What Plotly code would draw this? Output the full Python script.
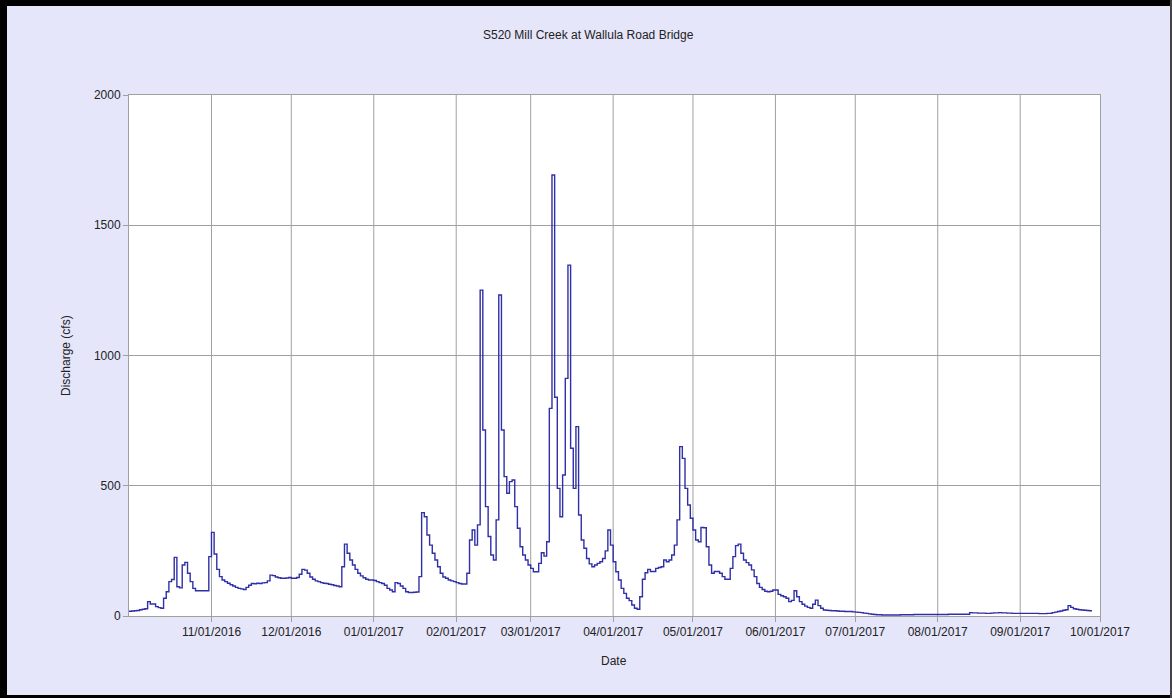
import pandas as pd
import plotly.graph_objects as go

# Daily mean discharge (cfs), water year 2017, one list per month
oct_2016 = [18, 19, 20, 21, 24, 26, 28, 55, 46, 46, 36, 32, 30, 68, 93, 132, 140, 225, 112, 108,
            196, 206, 164, 132, 106, 97, 97, 97, 97, 97, 228]
nov_2016 = [321, 238, 179, 151, 138, 132, 126, 120, 115, 110, 106, 104, 102, 110, 118, 125, 124, 126,
            125, 127, 128, 135, 157, 155, 150, 147, 145, 145, 146, 148]
dec_2016 = [145, 145, 148, 160, 179, 176, 164, 150, 141, 135, 132, 128, 126, 125, 122, 120, 117, 115,
            112, 189, 276, 241, 215, 196, 179, 164, 154, 147, 141, 138, 138]
jan_2017 = [136, 132, 128, 125, 118, 106, 100, 93, 128, 125, 115, 106, 93, 90, 90, 91, 92, 151, 397,
            381, 311, 272, 241, 215, 189, 164, 150, 145, 138, 135, 132]
feb_2017 = [128, 125, 123, 123, 164, 292, 330, 272, 350, 1251, 714, 420, 305, 234, 215, 369, 1232,
            714, 535, 471, 516, 522, 420, 337, 266, 234, 215, 196]
mar_2017 = [183, 170, 170, 202, 243, 230, 285, 797, 1693, 840, 490, 381, 541, 912, 1347, 644, 490,
            727, 388, 292, 260, 221, 200, 189, 196, 202, 208, 221, 250, 330, 272]
apr_2017 = [208, 170, 138, 106, 87, 68, 59, 42, 30, 26, 74, 141, 166, 179, 171, 171, 183, 186, 189,
            215, 208, 215, 234, 272, 369, 650, 605, 490, 426, 375]
may_2017 = [330, 292, 285, 340, 339, 266, 196, 164, 171, 171, 164, 151, 141, 141, 183, 228, 270, 276,
            241, 215, 205, 196, 177, 151, 125, 110, 102, 95, 93, 95, 100]
jun_2017 = [100, 83, 78, 74, 68, 55, 60, 97, 74, 55, 45, 38, 33, 30, 45, 61, 40, 30, 23, 22, 21, 20,
            20, 19, 18, 18, 17, 17, 17, 16]
jul_2017 = [15, 14, 13, 11, 10, 8, 7, 6, 5, 5, 4, 4, 4, 4, 4, 4, 4, 5, 5, 5, 5, 5, 6, 6, 6, 6, 6, 6,
            6, 6, 6]
aug_2017 = [6, 6, 6, 6, 7, 7, 7, 7, 7, 7, 7, 7, 13, 12, 12, 11, 11, 11, 10, 10, 11, 12, 12, 13, 12,
            12, 11, 11, 10, 10, 10]
sep_2017 = [10, 10, 10, 10, 10, 10, 10, 9, 9, 9, 10, 10, 13, 15, 17, 19, 22, 24, 40, 33, 28, 26, 24,
            23, 22, 21, 20, 20]

discharge = (oct_2016 + nov_2016 + dec_2016 + jan_2017 + feb_2017 + mar_2017 + apr_2017 + may_2017
             + jun_2017 + jul_2017 + aug_2017 + sep_2017)
dates = pd.date_range("2016-10-01", periods=len(discharge), freq="D")

month_ticks = pd.date_range("2016-11-01", "2017-10-01", freq="MS")
grid_months = pd.date_range("2016-10-01", "2017-10-01", freq="MS")
y_ticks = [0, 500, 1000, 1500, 2000]

title_text = "S520 Mill Creek at Wallula Road Bridge"
x_title = "Date"
y_title = "Discharge (cfs)"

W, H = 1172, 698
L, R, T, B = 129, 72, 95, 82
PW, PH = W - L - R, H - T - B


def px_x(px):
    return (px - L) / PW


def px_y(py):
    return (H - B - py) / PH


FONT = "Liberation Sans, Arial, sans-serif"
TXT = "#222222"
GRID = "#a0a0a0"

fig = go.Figure()
fig.add_trace(go.Scatter(
    x=dates, y=discharge, mode="lines", line=dict(shape="hv", color="#2f2fa8", width=1.4),
    hoverinfo="x+y", showlegend=False,
))

fig.update_layout(
    width=W, height=H,
    margin=dict(l=L, r=R, t=T, b=B, pad=0),
    paper_bgcolor="#E6E6FA",
    plot_bgcolor="#FFFFFF",
    font=dict(family=FONT, size=12, color=TXT),
    showlegend=False,
)

fig.update_xaxes(
    type="date",
    range=[grid_months[0], grid_months[-1]],
    tickvals=list(month_ticks),
    ticktext=[d.strftime("%m/%d/%Y") for d in month_ticks],
    ticks="outside", ticklen=5, tickcolor=GRID, tickwidth=1,
    showgrid=False, zeroline=False,
    showline=True, linecolor=GRID, linewidth=1, mirror=True,
    tickfont=dict(family=FONT, size=12, color=TXT),
)
fig.update_yaxes(
    range=[0, 2000],
    tickvals=y_ticks,
    ticks="outside", ticklen=5, tickcolor=GRID, tickwidth=1,
    showgrid=True, gridcolor=GRID, gridwidth=1, zeroline=False,
    showline=True, linecolor=GRID, linewidth=1, mirror=True,
    tickfont=dict(family=FONT, size=12, color=TXT),
)

# monthly vertical grid lines
for d in grid_months[1:-1]:
    fig.add_shape(type="line", xref="x", yref="paper", x0=d, x1=d, y0=0, y1=1,
                  line=dict(color=GRID, width=1), layer="below")

# outer frame around the whole chart
frame = "#000000"
fig.add_shape(type="rect", xref="paper", yref="paper", x0=px_x(0), x1=px_x(7), y0=px_y(H), y1=px_y(0),
              fillcolor=frame, line=dict(width=0))
fig.add_shape(type="rect", xref="paper", yref="paper", x0=px_x(0), x1=px_x(W), y0=px_y(6), y1=px_y(0),
              fillcolor=frame, line=dict(width=0))
fig.add_shape(type="rect", xref="paper", yref="paper", x0=px_x(0), x1=px_x(W), y0=px_y(H), y1=px_y(695),
              fillcolor=frame, line=dict(width=0))
fig.add_shape(type="rect", xref="paper", yref="paper", x0=px_x(1170), x1=px_x(W), y0=px_y(H), y1=px_y(0),
              fillcolor="#444444", line=dict(width=0))

fig.add_annotation(text=title_text, xref="paper", yref="paper", x=px_x(588), y=px_y(35),
                   xanchor="center", yanchor="middle", showarrow=False,
                   font=dict(family=FONT, size=12, color=TXT))
fig.add_annotation(text=x_title, xref="paper", yref="paper", x=px_x(614), y=px_y(661),
                   xanchor="center", yanchor="middle", showarrow=False,
                   font=dict(family=FONT, size=12, color=TXT))
fig.add_annotation(text=y_title, xref="paper", yref="paper", x=px_x(66), y=px_y(356),
                   xanchor="center", yanchor="middle", showarrow=False, textangle=-90,
                   font=dict(family=FONT, size=12, color=TXT))

fig.write_html("out.html", config={"displayModeBar": False})
